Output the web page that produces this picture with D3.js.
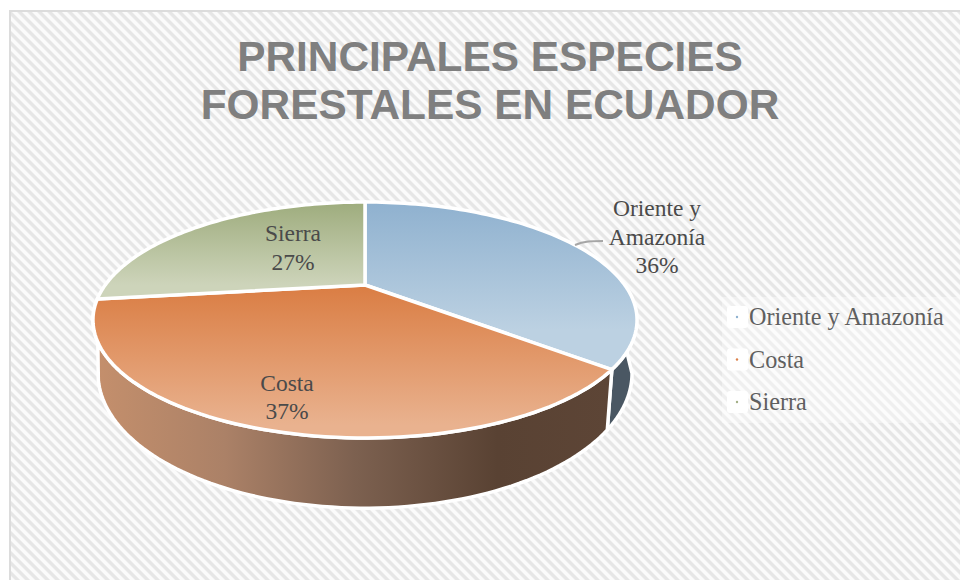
<!DOCTYPE html>
<html><head><meta charset="utf-8">
<style>html,body{margin:0;padding:0;background:#fff}svg{display:block}</style>
<script src="https://cdn.jsdelivr.net/npm/d3@7"></script></head>
<body><svg id="c" width="960" height="580"></svg>
<script>
const titleLines = ["PRINCIPALES ESPECIES", "FORESTALES EN ECUADOR"];
const categories = ["Oriente y Amazonía", "Costa", "Sierra"];
const values = [36, 37, 27];
const labelLines = [["Oriente y", "Amazonía"], ["Costa"], ["Sierra"]];
const markerColors = ["#8fb2d0", "#dc8049", "#a3b086"];
const topFrom = ["#8fb1cf", "#da7d43", "#9eac7d"];
const topTo = ["#bcd1e2", "#e9b28f", "#cdd4ba"];

const svg = d3.select("#c");
const defs = svg.append("defs");

const pat = defs.append("pattern").attr("id", "bg").attr("patternUnits", "userSpaceOnUse")
  .attr("width", 7.07).attr("height", 7.07).attr("patternTransform", "rotate(45)");
pat.append("rect").attr("width", 7.07).attr("height", 7.07).attr("fill", "#fbfbfb");
pat.append("rect").attr("width", 7.07).attr("height", 3.4).attr("fill", "#e6e6e6");

svg.append("rect").attr("x", 10).attr("y", 11).attr("width", 960).attr("height", 580)
  .attr("fill", "url(#bg)").attr("stroke", "#dcdcdc").attr("stroke-width", 2);

svg.selectAll("text.title").data(titleLines).join("text").attr("class", "title")
  .attr("x", 490).attr("y", (d, i) => 71 + i * 48).attr("text-anchor", "middle")
  .attr("font-family", "Liberation Sans").attr("font-weight", "bold").attr("font-size", 42.4)
  .attr("fill", "#7f7f7f").text(d => d);

// perspective pie
const k = 0.2966;
const topDisc = { cx: 365, cy: 285, R: 259.8, S: 107.6 };
const botDisc = { cx: 365, cy: 333.3, R: 255, S: 123 };
const proj = (disc, a) => {
  const yy = -Math.cos(a), w = 1 - k * yy;
  return [disc.cx + disc.R * Math.sin(a) / w, disc.cy + disc.S * yy / w];
};
const arcs = d3.pie().sort(null).value(d => d)(values);
const rad = d3.scaleLinear().domain([0, 180]).range([0, Math.PI]);
const sweep = (disc, a0, a1) => d3.range(0, 81).map(i => proj(disc, a0 + (a1 - a0) * i / 80));
const line = d3.line();

// gradients
const gy = [[202, 330], [285, 425], [202, 285]];
categories.forEach((c, i) => {
  const g = defs.append("linearGradient").attr("id", "t" + i).attr("gradientUnits", "userSpaceOnUse")
    .attr("x1", 0).attr("x2", 0).attr("y1", gy[i][0]).attr("y2", gy[i][1]);
  g.append("stop").attr("offset", 0).attr("stop-color", topFrom[i]);
  g.append("stop").attr("offset", 1).attr("stop-color", topTo[i]);
});
const wg = defs.append("linearGradient").attr("id", "wall").attr("gradientUnits", "userSpaceOnUse")
  .attr("x1", 97).attr("x2", 610).attr("y1", 0).attr("y2", 0);
[[0, "#c48f6c"], [0.25, "#ab8167"], [0.5, "#7d6150"], [0.78, "#594233"], [1, "#5d4536"]]
  .forEach(s => wg.append("stop").attr("offset", s[0]).attr("stop-color", s[1]));

// walls
const wallSpecs = [
  { top: [121.7, arcs[0].endAngle], bot: [107.3, arcs[0].endAngle], fill: "#4a5763" },
  { top: [arcs[1].startAngle, arcs[1].endAngle], bot: [arcs[1].startAngle, 250], fill: "url(#wall)" }
];
wallSpecs.forEach(w => {
  const a = v => v > 7 ? rad(v) : v;
  const pts = sweep(topDisc, a(w.top[0]), a(w.top[1])).concat(sweep(botDisc, a(w.bot[1]), a(w.bot[0])));
  svg.append("path").attr("d", line(pts) + "Z").attr("fill", w.fill)
    .attr("stroke", "#fff").attr("stroke-width", 3.5).attr("stroke-linejoin", "round");
});

// top faces
svg.selectAll("path.slice").data(arcs).join("path").attr("class", "slice")
  .attr("d", d => line([[topDisc.cx, topDisc.cy]].concat(sweep(topDisc, d.startAngle, d.endAngle))) + "Z")
  .attr("fill", (d, i) => `url(#t${i})`).attr("stroke", "#fff").attr("stroke-width", 3.5)
  .attr("stroke-linejoin", "round");

// leader
svg.append("path").attr("d", "M575,245C584,241 592,241 603,241").attr("fill", "none")
  .attr("stroke", "#a6a6a6").attr("stroke-width", 2);

// data labels
const labelPos = [[657, 216], [287, 391], [293, 241]];
const lh = [28.5, 28, 28.5];
const lab = svg.selectAll("g.lab").data(categories).join("g").attr("class", "lab")
  .attr("font-family", "Liberation Serif").attr("font-size", 23.5).attr("fill", "#4a4a4a").attr("text-anchor", "middle");
lab.each(function (c, i) {
  labelLines[i].concat([values[i] + "%"]).forEach((t, j) => {
    d3.select(this).append("text").attr("x", labelPos[i][0]).attr("y", labelPos[i][1] + j * lh[i]).text(t);
  });
});

// legend
svg.append("rect").attr("x", 722).attr("y", 297).attr("width", 238).attr("height", 126)
  .attr("fill", "#fff").attr("opacity", 0.35);
const leg = svg.selectAll("g.leg").data(categories).join("g").attr("class", "leg")
  .attr("transform", (d, i) => `translate(0,${317 + i * 42.5})`);
leg.append("rect").attr("x", 727).attr("y", -11).attr("width", 21).attr("height", 22).attr("fill", "#fff").attr("rx", 3);
leg.append("circle").attr("cx", 737).attr("cy", 0).attr("r", 1.2).attr("fill", (d, i) => markerColors[i]);
leg.append("text").attr("x", 749).attr("y", 8).attr("font-family", "Liberation Serif").attr("font-size", 24.2)
  .attr("fill", "#5f5f5f").text(d => d);
</script></body></html>
